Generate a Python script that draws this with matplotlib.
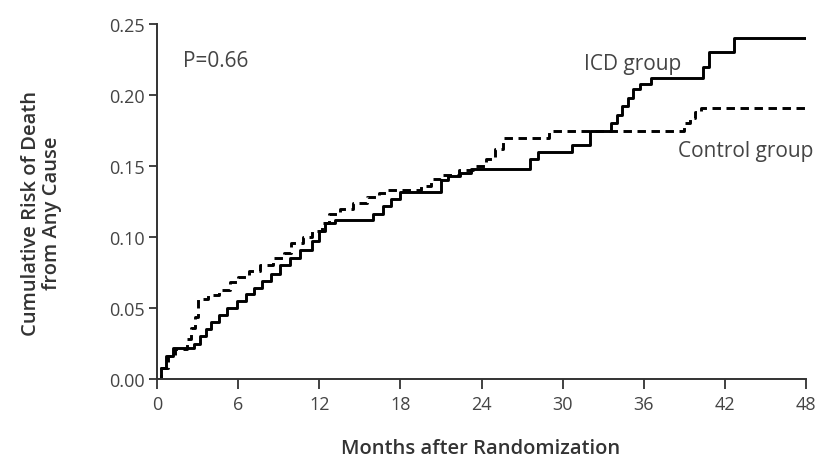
import matplotlib.pyplot as plt

icd_t = [0, 0.3, 0.7, 1.2, 2.7, 3.2, 3.6, 4.0, 4.6, 5.2, 5.9, 6.6, 7.2, 7.8, 8.4,
         9.1, 9.8, 10.6, 11.5, 12.0, 12.4, 13.2, 16.0, 16.7, 17.3, 18.0, 21.0,
         21.5, 22.4, 23.2, 27.6, 28.2, 30.7, 32.0, 33.6, 34.0, 34.4, 34.8, 35.2,
         35.7, 36.5, 40.4, 40.8, 42.7, 48.0]
icd_v = [0, 0.008, 0.016, 0.022, 0.025, 0.030, 0.035, 0.040, 0.045, 0.050, 0.055,
         0.060, 0.064, 0.069, 0.074, 0.080, 0.085, 0.091, 0.097, 0.104, 0.110,
         0.112, 0.116, 0.122, 0.127, 0.132, 0.140, 0.143, 0.145, 0.148, 0.155,
         0.160, 0.165, 0.175, 0.180, 0.186, 0.192, 0.198, 0.204, 0.208, 0.212,
         0.220, 0.230, 0.240, 0.240]

ctl_t = [0, 0.3, 0.8, 1.3, 2.2, 2.5, 2.8, 3.0, 3.8, 4.6, 5.4, 6.0, 6.8, 7.6, 8.6,
         9.4, 9.9, 10.8, 11.5, 12.2, 12.7, 13.5, 14.5, 15.5, 16.4, 17.0, 19.5,
         20.3, 21.0, 22.3, 23.4, 24.3, 25.0, 25.6, 29.0, 39.0, 39.4, 39.8, 40.2, 48.0]
ctl_v = [0, 0.008, 0.016, 0.021, 0.028, 0.036, 0.044, 0.056, 0.059, 0.063, 0.068,
         0.072, 0.076, 0.080, 0.085, 0.089, 0.096, 0.100, 0.104, 0.110, 0.116,
         0.120, 0.124, 0.128, 0.131, 0.133, 0.136, 0.141, 0.144, 0.147, 0.150,
         0.155, 0.162, 0.170, 0.175, 0.180, 0.184, 0.188, 0.191, 0.191]

x_ticks = list(range(0, 49, 6))
y_ticks = [0.00, 0.05, 0.10, 0.15, 0.20, 0.25]

plt.rcParams['font.family'] = ['Open Sans', 'DejaVu Sans']
gris = '#444444'

fig = plt.figure(figsize=(8.24, 4.6), dpi=100)
ax = fig.add_axes([157 / 824, 80 / 460, 649 / 824, 355 / 460])

# courbes en escalier
ax.plot(icd_t, icd_v, drawstyle='steps-post', color='black', lw=2.1)
ax.plot(ctl_t, ctl_v, drawstyle='steps-post', color='black', lw=2.1,
        dashes=(2.9, 1.9))

ax.set_xlim(0, 48)
ax.set_ylim(0, 0.25)
ax.set_xticks(x_ticks)
ax.set_yticks(y_ticks)
ax.set_yticklabels([f'{v:.2f}' for v in y_ticks])

for s in ['top', 'right']:
    ax.spines[s].set_visible(False)
for s in ['left', 'bottom']:
    ax.spines[s].set_linewidth(1.4)
    ax.spines[s].set_color('#333333')
ax.tick_params(direction='out', width=1.3, color='#333333',
               labelsize=13, labelcolor=gris)
ax.tick_params(axis='x', length=7.5, pad=4)
ax.tick_params(axis='y', length=6, pad=3)

# titres des axes places a la main
ax.text(0.499, -0.165, 'Months after Randomization', transform=ax.transAxes,
        fontsize=14.5, color='#333333', fontweight='semibold',
        ha='center', va='top')
ax.text(-0.146, 0.47, 'Cumulative Risk of Death\nfrom Any Cause',
        transform=ax.transAxes, rotation=90, fontsize=14.5, color='#333333',
        fontweight='semibold', ha='right', va='center', multialignment='center',
        linespacing=1.05)

# annotations
ax.text(1.9, 0.224, 'P=0.66', fontsize=15, color=gris, va='center')
ax.text(31.6, 0.222, 'ICD group', fontsize=15, color=gris, va='center')
ax.text(38.5, 0.161, 'Control group', fontsize=15, color=gris, va='center',
        clip_on=False)

plt.savefig('out.png', dpi=100)
